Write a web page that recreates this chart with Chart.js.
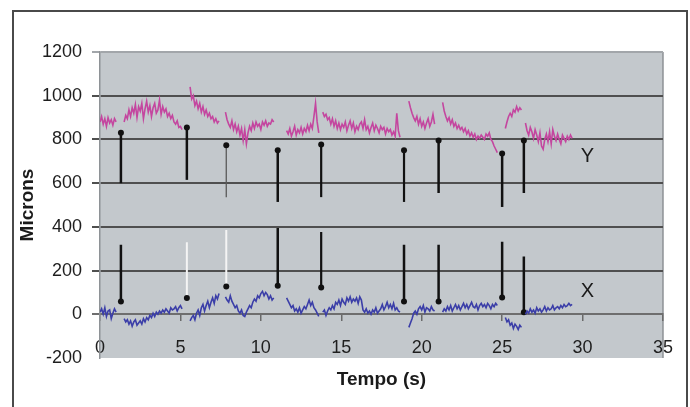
<!DOCTYPE html>
<html><head><meta charset="utf-8">
<script src="https://cdn.jsdelivr.net/npm/chart.js@4/dist/chart.umd.min.js"></script>
<style>
html,body{margin:0;padding:0;background:#fff;width:690px;height:407px;overflow:hidden;}
#frame{position:absolute;left:12px;top:10px;width:676px;height:440px;border:2px solid #4a4a4a;box-sizing:border-box;}
#wrap{position:absolute;left:0;top:0;width:690px;height:407px;}
</style></head><body>
<div id="frame"></div>
<div id="wrap"><canvas id="c" width="690" height="407"></canvas></div>
<script>
// ---- data ----
const STEP = 0.1; // sampling interval (s)
const segStarts = [0, 1.5, 5.6, 7.8, 11.6, 13.85, 19.2, 21.3, 25.2, 26.45];
const yMicrons = [
  [880, 905, 870, 895, 860, 900, 875, 890, 865, 895, 880],
  [880, 910, 895, 935, 905, 945, 920, 960, 900, 950, 930, 965, 895, 940, 975, 925, 955, 905, 945, 965, 920, 935, 980, 915, 950, 925, 940, 905, 920, 895, 910, 880, 870, 885, 855, 860, 845],
  [1040, 985, 1000, 955, 975, 940, 965, 925, 950, 915, 935, 905, 920, 895, 905, 880, 895, 875, 885],
  [925, 890, 870, 855, 885, 845, 870, 835, 860, 820, 850, 795, 845, 780, 830, 860, 840, 875, 850, 880, 860, 870, 845, 880, 865, 885, 860, 875, 870, 890, 880],
  [840, 825, 850, 815, 835, 860, 820, 845, 830, 855, 825, 850, 835, 865, 840, 870, 850, 905, 965, 880, 830],
  [925, 905, 915, 890, 900, 870, 895, 860, 885, 850, 875, 845, 870, 855, 880, 840, 865, 885, 850, 875, 835, 860, 845, 870, 880, 850, 890, 845, 860, 830, 855, 875, 840, 865, 850, 830, 860, 845, 855, 825, 850, 835, 845, 820, 835, 815, 920, 840, 810],
  [975, 945, 920, 900, 885, 905, 870, 895, 860, 880, 850, 875, 895, 860, 880, 915, 870],
  [970, 930, 905, 885, 900, 870, 890, 860, 875, 850, 865, 845, 855, 835, 850, 825, 840, 815, 830, 810, 825, 800, 815, 805, 820, 810, 800, 825, 815, 830, 800, 790, 770, 755, 740],
  [850, 880, 905, 920, 905, 935, 925, 950, 930, 945, 935],
  [875, 840, 820, 855, 835, 805, 845, 820, 790, 830, 770, 755, 800, 825, 790, 835, 780, 845, 815, 795, 825, 800, 780, 820, 805, 790, 815, 800, 820, 805]
];
const xMicrons = [
  [10, 25, 0, 30, -10, 15, 20, -20, 5, 25, 10],
  [-20, -35, -25, -45, -30, -55, -35, -25, -50, -40, -30, -45, -20, -35, -15, -25, -5, -15, 5, -10, 10, 0, 15, 5, 20, 10, 25, 15, 5, 30, 20, 25, 35, 15, 30, 40, 25],
  [-30, -15, -5, -25, 5, 20, -5, 30, 45, 15, 40, 60, 30, 55, 75, 50, 85, 70, 95],
  [80, 65, 55, 85, 60, 45, 30, 40, 15, 5, 20, -5, -10, 10, 25, 40, 30, 55, 70, 60, 85, 75, 95, 105, 85, 100, 90, 70, 85, 65, 75],
  [75, 60, 45, 30, 40, 15, 25, 10, 30, 5, 20, 35, 25, 45, 65, 40, 55, 30, 20, 5, -10],
  [10, 20, -5, 15, 30, 20, 40, 25, 55, 45, 65, 40, 70, 55, 45, 75, 60, 80, 55, 70, 60, 75, 50, 80, 65, 20, 10, 25, 5, 15, 0, 20, 10, 30, 5, 15, 25, 45, 20, 35, 55, 30, 45, 25, 50, 20, 30, 15, 10],
  [-60, -40, -20, 5, 15, 0, 25, 35, 20, 40, 10, 30, 25, 15, 35, 20, 15],
  [10, 25, 15, 35, 20, 40, 15, 30, 45, 25, 40, 20, 35, 50, 30, 45, 25, 40, 55, 35, 30, 45, 20, 40, 50, 35, 45, 30, 50, 40, 25, 45, 35, 50, 40],
  [-15, -35, -25, -50, -40, -65, -45, -55, -70, -50, -60],
  [0, 15, 5, 25, 10, 20, 5, 30, 15, 25, 10, 20, 35, 15, 30, 20, 25, 40, 20, 30, 35, 25, 40, 30, 45, 35, 40, 50, 40, 45]
];
const arrowTimes = [1.3, 5.4, 7.85, 11.05, 13.75, 18.9, 21.05, 25.0, 26.35];
const arrowYTail = [600, 615, 536, 514, 536, 514, 555, 491, 555];
const arrowYHead = [830, 855, 773, 750, 777, 750, 795, 736, 795];
const arrowXTail = [318, 330, 386, 395, 377, 318, 318, 332, 264];
const arrowXHead = [59, 75, 127, 130, 123, 59, 59, 77, 9];
const xTicks = [0, 5, 10, 15, 20, 25, 30, 35];
const yTicks = [-200, 0, 200, 400, 600, 800, 1000, 1200];

// ---- styles ----
const FONT = "'Liberation Sans', Arial, sans-serif";
const arrowYColors = ['#111', '#111', '#5a5a5a', '#111', '#111', '#111', '#111', '#111', '#111'];
const arrowYWidths = [2.5, 2.5, 1.3, 2.5, 2.2, 2.2, 2.5, 2.5, 2.5];
const arrowXColors = ['#111', '#f4f4f4', '#f4f4f4', '#111', '#111', '#111', '#111', '#111', '#111'];
const arrowXWidths = [2.5, 2, 2, 2.5, 2.2, 2.5, 2.5, 2.5, 2.5];

function buildSeries(starts, segs) {
  const pts = [];
  segs.forEach((vals, k) => {
    if (k > 0) pts.push({ x: starts[k] - 0.05, y: null });
    vals.forEach((v, i) => pts.push({ x: +(starts[k] + i * STEP).toFixed(3), y: v }));
  });
  return pts;
}

const datasets = [
  { data: buildSeries(segStarts, yMicrons), showLine: true, borderColor: '#c4469f', borderWidth: 1.6, pointRadius: 0, spanGaps: false },
  { data: buildSeries(segStarts, xMicrons), showLine: true, borderColor: '#3b3ea8', borderWidth: 1.6, pointRadius: 0, spanGaps: false }
];
arrowTimes.forEach((t, i) => {
  datasets.push({ data: [{ x: t, y: arrowYTail[i] }, { x: t, y: arrowYHead[i] }], showLine: true,
    borderColor: arrowYColors[i], borderWidth: arrowYWidths[i], pointRadius: [0, 3],
    pointBackgroundColor: '#111', pointBorderWidth: 0 });
  datasets.push({ data: [{ x: t, y: arrowXTail[i] }, { x: t, y: arrowXHead[i] }], showLine: true,
    borderColor: arrowXColors[i], borderWidth: arrowXWidths[i], pointRadius: [0, 3],
    pointBackgroundColor: '#111', pointBorderWidth: 0 });
});

const bgPlugin = {
  id: 'bg',
  beforeDraw(chart) {
    const { ctx, chartArea: a } = chart;
    ctx.save();
    ctx.fillStyle = '#c3c8cc';
    ctx.fillRect(a.left, a.top, a.right - a.left, a.bottom - a.top);
    ctx.strokeStyle = '#8e9296';
    ctx.lineWidth = 1.5;
    ctx.beginPath();
    ctx.moveTo(a.right, a.top); ctx.lineTo(a.right, a.bottom);
    ctx.stroke();
    ctx.restore();
  }
};
const textPlugin = {
  id: 'texts',
  afterDraw(chart) {
    const { ctx, chartArea: a, scales } = chart;
    ctx.save();
    ctx.fillStyle = '#1a1a1a';
    ctx.textAlign = 'center';
    ctx.textBaseline = 'middle';
    ctx.font = 'bold 19px ' + FONT;
    ctx.fillText('Tempo (s)', (a.left + a.right) / 2, 380);
    ctx.save();
    ctx.translate(28, (a.top + a.bottom) / 2);
    ctx.rotate(-Math.PI / 2);
    ctx.fillText('Microns', 0, 0);
    ctx.restore();
    ctx.font = '20px ' + FONT;
    ctx.fillText('Y', scales.x.getPixelForValue(30.3), scales.y.getPixelForValue(724));
    ctx.fillText('X', scales.x.getPixelForValue(30.3), scales.y.getPixelForValue(106));
    ctx.restore();
  }
};

new Chart(document.getElementById('c'), {
  type: 'scatter',
  data: { datasets },
  options: {
    responsive: false,
    animation: false,
    layout: { padding: { top: 52, right: 20, bottom: 49, left: 0 } },
    plugins: { legend: { display: false }, tooltip: { enabled: false } },
    scales: {
      x: {
        type: 'linear', position: { y: 0 }, min: 0, max: 35,
        afterBuildTicks(s) { s.ticks = xTicks.map(v => ({ value: v })); },
        ticks: { font: { family: FONT, size: 18 }, color: '#1e1e1e', padding: 17, maxRotation: 0, callback: v => String(v) },
        grid: { drawOnChartArea: false, drawTicks: true, tickLength: 6, color: '#6a6a6a', lineWidth: 1.5 },
        border: { display: true, color: '#6e6e6e', width: 2 }
      },
      y: {
        min: -200, max: 1200,
        afterBuildTicks(s) { s.ticks = yTicks.map(v => ({ value: v })); },
        ticks: { font: { family: FONT, size: 18 }, color: '#1e1e1e', padding: 10, callback: v => String(v) },
        grid: {
          tickLength: 8, lineWidth: 2,
          color: c => c.tick.value === 1200 ? '#a2a6aa' : (c.tick.value === -200 ? 'rgba(0,0,0,0)' : (c.tick.value === 0 ? '#6e6e6e' : '#4f4f4f'))
        },
        border: { display: true, color: '#8e9296', width: 1.5 },
        afterFit(s) { s.width = 100; }
      }
    }
  },
  plugins: [bgPlugin, textPlugin]
});
</script></body></html>
